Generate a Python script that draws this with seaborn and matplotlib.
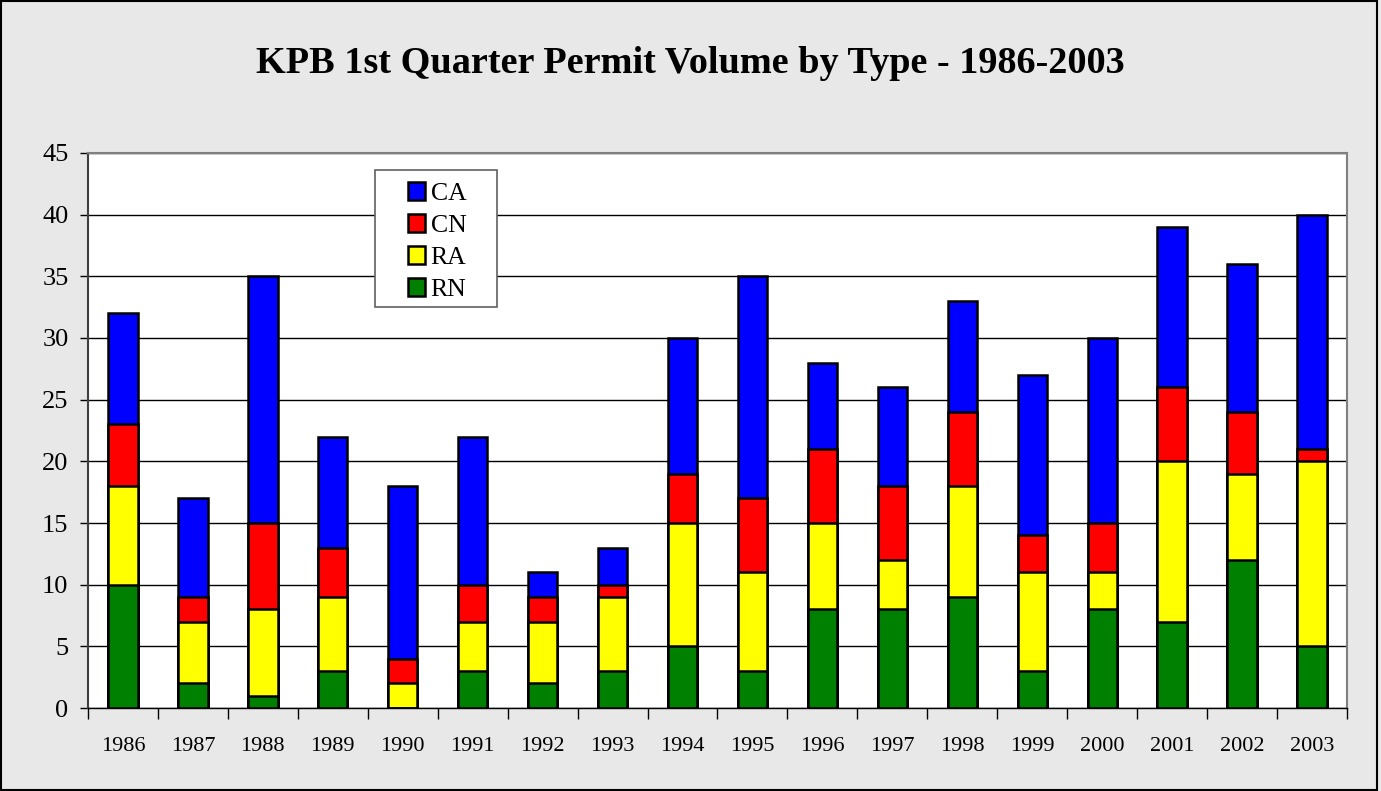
import matplotlib.pyplot as plt
import numpy as np
import pandas as pd
import seaborn as sns
from matplotlib.patches import Patch, Rectangle

years = [str(y) for y in range(1986, 2004)]
rn = [10, 2, 1, 3, 0, 3, 2, 3, 5, 3, 8, 8, 9, 3, 8, 7, 12, 5]
ra = [8, 5, 7, 6, 2, 4, 5, 6, 10, 8, 7, 4, 9, 8, 3, 13, 7, 15]
cn = [5, 2, 7, 4, 2, 3, 2, 1, 4, 6, 6, 6, 6, 3, 4, 6, 5, 1]
ca = [9, 8, 20, 9, 14, 12, 2, 3, 11, 18, 7, 8, 9, 13, 15, 13, 12, 19]

series_names = ["RN", "RA", "CN", "CA"]
series_colors = {"CA": "#0000FF", "CN": "#FF0000", "RA": "#FFFF00", "RN": "#008000"}

sns.set_style("white")
plt.rcParams["font.family"] = ["Liberation Serif", "DejaVu Serif"]
plt.rcParams["text.color"] = "black"
plt.rcParams["xtick.color"] = "black"
plt.rcParams["ytick.color"] = "black"

df = pd.DataFrame({"year": years, "RN": rn, "RA": ra, "CN": cn, "CA": ca})
cum = df[series_names].cumsum(axis=1)
cum["year"] = df["year"]

fig = plt.figure(figsize=(13.81, 7.91), dpi=100, facecolor="#E8E8E8")
ax = fig.add_axes([0.0637, 0.1049, 0.9117, 0.7017])
ax.set_facecolor("white")

# draw cumulative totals from top to bottom so lower layers sit in front
for i, name in enumerate(reversed(series_names)):
    sns.barplot(
        data=cum,
        x="year",
        y=name,
        color=series_colors[name],
        saturation=1,
        width=0.42,
        edgecolor="black",
        linewidth=1.8,
        ax=ax,
        zorder=3 + i,
    )

ax.set_ylim(0, 45)
ax.set_xlim(-0.5, len(years) - 0.5)
ax.set_yticks(np.arange(0, 46, 5))
ax.yaxis.grid(True, color="black", linewidth=1)
ax.set_axisbelow(True)
ax.set_xlabel("")
ax.set_ylabel("")

ax.tick_params(axis="y", labelsize=19, length=6, width=1, direction="out", left=True, pad=8)
ax.tick_params(axis="x", which="major", labelsize=16, length=0, pad=21)
ax.set_xticks(np.arange(-0.5, len(years), 1), minor=True)
ax.tick_params(axis="x", which="minor", length=8, width=1, direction="out", bottom=True)

for side in ["top", "right"]:
    ax.spines[side].set_color("#808080")
    ax.spines[side].set_linewidth(1.5)
ax.spines["left"].set_color("#404040")
ax.spines["bottom"].set_color("black")
ax.spines["left"].set_linewidth(1.5)
ax.spines["bottom"].set_linewidth(1)

fig.suptitle(
    "KPB 1st Quarter Permit Volume by Type - 1986-2003",
    fontsize=27.5,
    fontweight="bold",
    y=0.942,
)

# legend box drawn separately to get the wide padding of the original
fig.add_artist(
    Rectangle((0.2715, 0.6119), 0.0883, 0.1732, transform=fig.transFigure,
              facecolor="white", edgecolor="#606060", linewidth=1.2, zorder=19)
)
handles = [
    Patch(facecolor=series_colors[n], edgecolor="black", linewidth=1.8, label=n)
    for n in ["CA", "CN", "RA", "RN"]
]
leg = fig.legend(
    handles=handles,
    loc="upper left",
    bbox_to_anchor=(0.2954, 0.770),
    fontsize=18.5,
    frameon=False,
    handlelength=0.68,
    handleheight=0.68,
    handletextpad=0.2,
    labelspacing=0.36,
    borderpad=0,
    borderaxespad=0,
)
leg.set_zorder(20)

# outer border
fig.add_artist(
    Rectangle((0.001, 0.001), 0.996, 0.998, transform=fig.transFigure,
              fill=False, edgecolor="black", linewidth=1.5)
)

fig.savefig("out.png", dpi=100, facecolor=fig.get_facecolor())
